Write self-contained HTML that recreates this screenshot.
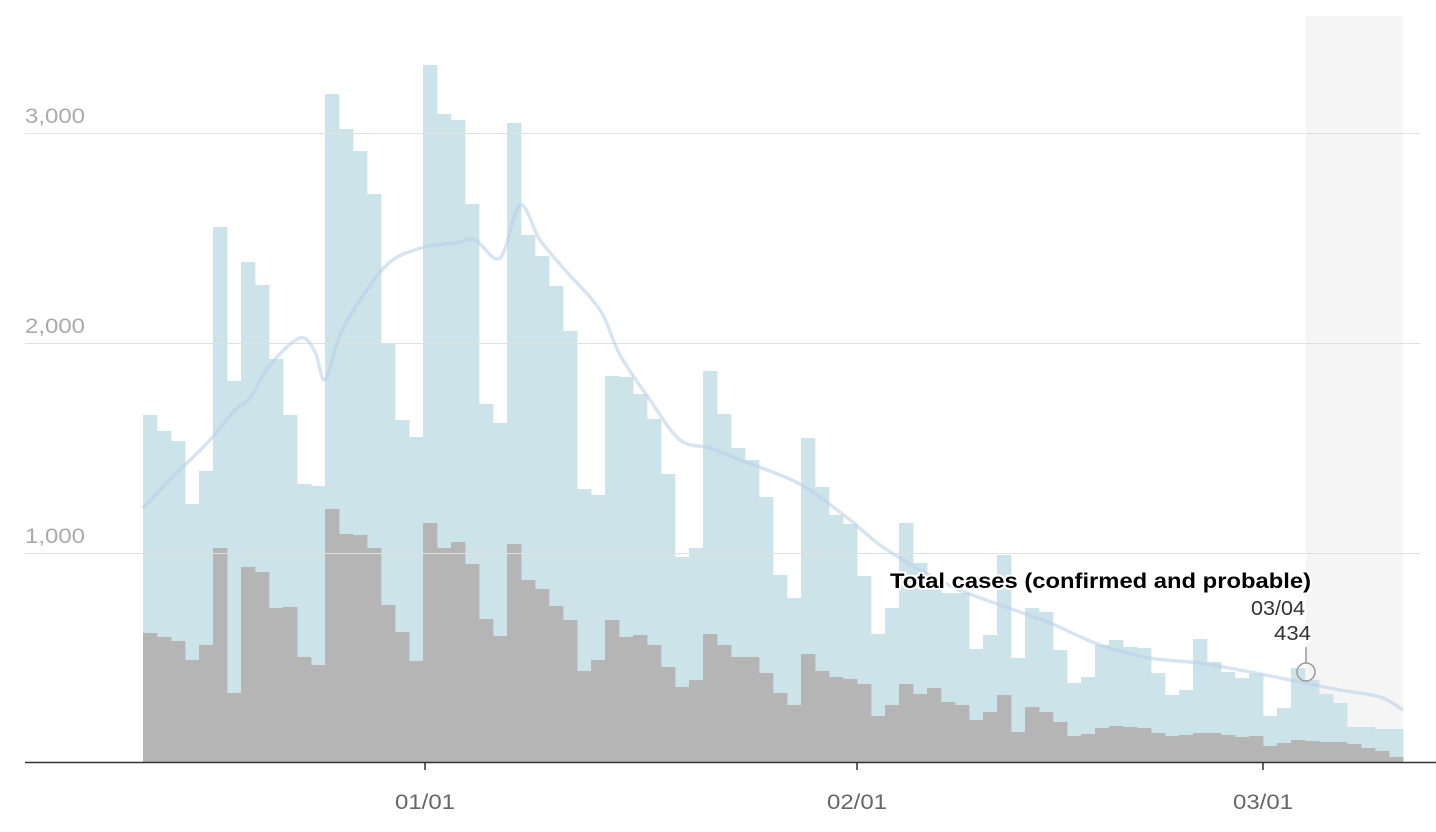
<!DOCTYPE html>
<html><head><meta charset="utf-8"><style>
html,body{margin:0;padding:0;background:#fff;}
svg{display:block;font-family:"Liberation Sans",Arial,sans-serif;}
</style></head><body>
<svg id="c" width="1436" height="832" xmlns="http://www.w3.org/2000/svg">
<rect x="1306" y="16" width="97" height="746" fill="#f5f5f5"/>
<g id="bars"></g>
<g stroke="#e0e0e0" stroke-width="1">
<line x1="25" x2="1420" y1="133.5" y2="133.5"/>
<line x1="25" x2="1420" y1="343.5" y2="343.5"/>
<line x1="25" x2="1420" y1="553.5" y2="553.5"/>
</g>
<g fill="#aaa" font-size="21">
<text x="25" y="123" textLength="60" lengthAdjust="spacingAndGlyphs">3,000</text>
<text x="25" y="333" textLength="60" lengthAdjust="spacingAndGlyphs">2,000</text>
<text x="25" y="543" textLength="60" lengthAdjust="spacingAndGlyphs">1,000</text>
</g>
<path id="avg" fill="none" stroke="#b7cfe8" stroke-opacity="0.55" stroke-width="3.5" stroke-linejoin="round"/>
<line x1="25" x2="1436" y1="762.5" y2="762.5" stroke="#333" stroke-width="1.5"/>
<g stroke="#333" stroke-width="1.5">
<line x1="425" x2="425" y1="762" y2="770"/>
<line x1="857" x2="857" y1="762" y2="770"/>
<line x1="1263" x2="1263" y1="762" y2="770"/>
</g>
<g fill="#666" font-size="21">
<text x="395" y="809" textLength="60" lengthAdjust="spacingAndGlyphs">01/01</text>
<text x="827" y="809" textLength="60" lengthAdjust="spacingAndGlyphs">02/01</text>
<text x="1233" y="809" textLength="60" lengthAdjust="spacingAndGlyphs">03/01</text>
</g>
<g stroke="#fff" stroke-width="4" paint-order="stroke" stroke-linejoin="round">
<text x="890" y="588" font-size="21" font-weight="bold" fill="#000" textLength="421" lengthAdjust="spacingAndGlyphs">Total cases (confirmed and probable)</text>
<text x="1251" y="615" font-size="20" fill="#333" textLength="54" lengthAdjust="spacingAndGlyphs">03/04</text>
<text x="1274" y="640" font-size="20" fill="#333" textLength="37" lengthAdjust="spacingAndGlyphs">434</text>
</g>
<line x1="1306" x2="1306" y1="647" y2="663" stroke="#999" stroke-width="1.5"/>
<circle cx="1306" cy="672" r="9" fill="none" stroke="#999" stroke-width="1.5"/>
</svg>
<script>
var L=[415,431,441,504,471,227,381,262,285,359,415,484,486,94,129,151,194,343,420,437,65,114,120,204,404,423,123,235,256,286,331,489,495,376,377,394,419,474,557,548,371,414,448,460,497,575,598,438,487,515,524,576,634,608,523,563,580,593,593,649,635,555,658,608,612,650,683,677,645,640,647,648,673,695,690,639,662,672,678,674,716,708,668,680,694,703,727,727,729,729];
var G=[633,637,641,660,645,548,693,567,572,608,607,657,665,509,534,535,548,605,632,661,523,548,542,564,619,636,544,580,589,606,620,671,660,620,637,635,645,667,687,680,634,645,657,657,673,693,705,654,671,677,679,684,716,705,684,694,688,702,705,720,712,695,732,707,712,722,736,734,728,726,727,728,733,736,735,733,733,735,737,736,746,743,740,741,742,742,744,748,751,757];
var s='';
for(var i=0;i<L.length;i++){var x=143+i*14;
s+='<rect x="'+x+'" y="'+L[i]+'" width="14.4" height="'+(762-L[i])+'" fill="#cde3ea"/>';}
for(var i=0;i<G.length;i++){var x=143+i*14;
s+='<rect x="'+x+'" y="'+G[i]+'" width="14.4" height="'+(762-G[i])+'" fill="#b5b5b5"/>';}
document.getElementById('bars').innerHTML=s;
var P=[[143,508],[170,480],[210,440],[235,410],[250,398],[270,365],[300,338],[315,352],[325,380],[340,335],[360,300],[390,262],[425,247],[455,243],[475,240],[500,258],[520,205],[540,240],[565,270],[600,310],[620,355],[650,400],[680,440],[710,448],[740,460],[780,475],[810,490],[850,520],[880,545],[920,570],[960,590],[1000,605],[1050,623],[1100,645],[1150,658],[1200,663],[1250,672],[1300,682],[1340,690],[1380,697],[1403,710]];
var d='M'+P[0][0]+','+P[0][1];
for(var i=0;i<P.length-1;i++){var p0=P[Math.max(0,i-1)],p1=P[i],p2=P[i+1],p3=P[Math.min(P.length-1,i+2)];
d+=' C'+(p1[0]+(p2[0]-p0[0])/6)+','+(p1[1]+(p2[1]-p0[1])/6)+' '+(p2[0]-(p3[0]-p1[0])/6)+','+(p2[1]-(p3[1]-p1[1])/6)+' '+p2[0]+','+p2[1];}
document.getElementById('avg').setAttribute('d',d);
</script>
</body></html>
